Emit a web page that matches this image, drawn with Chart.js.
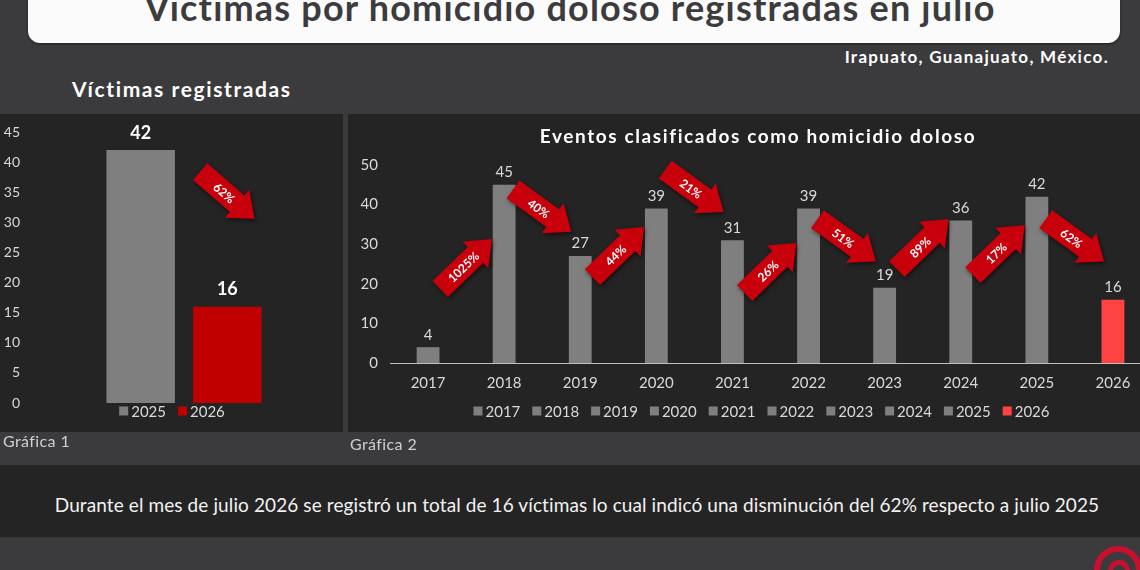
<!DOCTYPE html>
<html>
<head>
<meta charset="utf-8">
<script src="https://cdn.jsdelivr.net/npm/chart.js@4.4.1/dist/chart.umd.min.js"></script>
<style>
    body { margin: 0; width: 1140px; height: 570px; overflow: hidden; background: #3b3a3c; font-family: Lato, sans-serif; position: relative; }
    .abs { position: absolute; }
    #titleBox { left: 28px; top: -20px; width: 1092px; height: 63px; background: #fbfbfb; border-radius: 12px; box-shadow: 0 1px 3px rgba(0,0,0,.45); }
    #title { left: 0; width: 1140px; top: -11px; line-height: 36px; text-align: center; font-weight: bold; font-size: 36px; letter-spacing: 1.2px; color: #3c3b3d; white-space: nowrap; }
    #place { right: 31px; top: 46px; font-weight: bold; font-size: 17px; letter-spacing: 1.3px; color: #fff; }
    #sub { left: 72px; top: 76px; font-weight: bold; font-size: 21px; letter-spacing: 1.6px; color: #fff; }
    .panel { background: #242424; }
    #leftPanel { left: 0; top: 114px; width: 343px; height: 318px; }
    #rightPanel { left: 348px; top: 114px; width: 805px; height: 318px; }
    .caption { font-size: 16px; letter-spacing: 0.4px; color: #d0d0d0; }
    #band { left: 0; top: 465px; width: 1140px; height: 72px; background: #242424; }
    #note { left: 7px; width: 1140px; top: 493px; text-align: center; font-size: 19px; letter-spacing: 0.1px; color: #f2f2f2; white-space: nowrap; }
    #logo { left: 1094px; top: 546px; width: 36px; height: 36px; border: 6px solid #c8102e; border-radius: 50%; }
    #logoIn { left: 1108px; top: 560px; width: 12px; height: 12px; border: 5px solid #c8102e; border-radius: 50%; }
</style>
</head>
<body>
<div id="titleBox" class="abs"></div>
<div id="title" class="abs">Víctimas por homicidio doloso registradas en julio</div>
<div id="place" class="abs">Irapuato, Guanajuato, México.</div>
<div id="sub" class="abs">Víctimas registradas</div>

<div id="leftPanel" class="abs panel"><canvas id="chartLeft" width="343" height="318"></canvas></div>
<div id="rightPanel" class="abs panel"><canvas id="chartRight" width="805" height="318"></canvas></div>
<div class="abs caption" style="left:3px;top:431px">Gráfica 1</div>
<div class="abs caption" style="left:350px;top:434px">Gráfica 2</div>

<div id="band" class="abs"></div>
<div id="note" class="abs">Durante el mes de julio 2026 se registró un total de 16 víctimas lo cual indicó una disminución del 62% respecto a julio 2025</div>
<div id="logo" class="abs"></div>
<div id="logoIn" class="abs"></div>

<script>
// datos
const compareYears = ['2025', '2026'];
const compareValues = [42, 16];
const compareTicks = [0, 5, 10, 15, 20, 25, 30, 35, 40, 45];

const years = ['2017', '2018', '2019', '2020', '2021', '2022', '2023', '2024', '2025', '2026'];
const victims = [4, 45, 27, 39, 31, 39, 19, 36, 42, 16];
const yearTicks = [0, 10, 20, 30, 40, 50];

// altura (en valores del eje) de cada flecha entre barras
const arrowLevels = [25, 38.5, 28, 43.5, 24, 31, 30, 28.5, 31];
const leftArrowLevel = 34.5;

const GRAY = '#7f7f7f';
const TICK = '#d9d9d9';
const barColors = years.map((y, i) => i === years.length - 1 ? '#ff4343' : GRAY);
const compareColors = [GRAY, '#c00000'];

function pct(a, b) {
    return Math.round(Math.abs(b - a) / a * 100) + '%';
}

function drawArrow(ctx, cx, cy, angle, label) {
    const L = 72, shaft = 22, head = 37, headLen = 23;
    ctx.save();
    ctx.translate(cx, cy);
    ctx.rotate(angle);
    ctx.shadowColor = 'rgba(0,0,0,0.55)';
    ctx.shadowBlur = 4;
    ctx.shadowOffsetX = 1;
    ctx.shadowOffsetY = 2;
    ctx.fillStyle = '#c8000b';
    ctx.beginPath();
    ctx.moveTo(-L / 2, -shaft / 2);
    ctx.lineTo(L / 2 - headLen, -shaft / 2);
    ctx.lineTo(L / 2 - headLen, -head / 2);
    ctx.lineTo(L / 2, 0);
    ctx.lineTo(L / 2 - headLen, head / 2);
    ctx.lineTo(L / 2 - headLen, shaft / 2);
    ctx.lineTo(-L / 2, shaft / 2);
    ctx.closePath();
    ctx.fill();
    ctx.shadowColor = 'transparent';
    ctx.fillStyle = '#ffffff';
    ctx.font = 'bold 12px Lato';
    ctx.textAlign = 'center';
    ctx.textBaseline = 'middle';
    ctx.fillText(label, -4, 1);
    ctx.restore();
}

// etiquetas de valor sobre las barras
const valueLabels = {
    id: 'valueLabels',
    afterDatasetsDraw(chart, args, opts) {
        const ctx = chart.ctx;
        ctx.save();
        ctx.font = opts.font;
        ctx.fillStyle = opts.color;
        ctx.textAlign = 'center';
        ctx.textBaseline = 'bottom';
        chart.data.datasets.forEach((ds, di) => {
            chart.getDatasetMeta(di).data.forEach((bar, i) => {
                ctx.fillText(ds.data[i], bar.x, bar.y - opts.gap);
            });
        });
        ctx.restore();
    }
};

// leyenda compacta pegada al eje
const tightLegend = {
    id: 'tightLegend',
    afterDraw(chart, args, opts) {
        const ctx = chart.ctx;
        ctx.save();
        ctx.font = '15px Lato';
        ctx.textBaseline = 'middle';
        ctx.textAlign = 'left';
        const box = 9, gap = 3, space = 12;
        const widths = opts.items.map(t => box + gap + ctx.measureText(t).width);
        const total = widths.reduce((a, b) => a + b, 0) + space * (widths.length - 1);
        let x = opts.center(chart) - total / 2;
        const y = chart.chartArea.bottom + opts.offset;
        opts.items.forEach((t, i) => {
            ctx.fillStyle = opts.colors[i];
            ctx.fillRect(x, y - box / 2, box, box);
            ctx.fillStyle = TICK;
            ctx.fillText(t, x + box + gap, y + 1);
            x += widths[i] + space;
        });
        ctx.restore();
    }
};

// Gráfica 1
new Chart(document.getElementById('chartLeft'), {
    type: 'bar',
    data: {
        labels: ['julio'],
        datasets: compareYears.map((y, i) => ({
            label: y,
            data: [compareValues[i]],
            backgroundColor: compareColors[i],
            categoryPercentage: 0.545,
            barPercentage: 0.79
        }))
    },
    options: {
        responsive: false,
        animation: false,
        layout: { padding: { top: 18, right: 0, bottom: 29 } },
        scales: {
            x: { display: false },
            y: {
                min: 0, max: 45,
                afterBuildTicks: s => { s.ticks = compareTicks.map(v => ({ value: v })); },
                afterFit: s => { s.width = 25; },
                grid: { display: false, drawTicks: false },
                border: { display: false },
                ticks: { color: TICK, font: { family: 'Lato', size: 14 }, padding: 5 }
            }
        },
        plugins: {
            legend: { display: false },
            tooltip: { enabled: false },
            valueLabels: { font: 'bold 18px Lato', color: '#ffffff', gap: 8 },
            tightLegend: {
                items: compareYears, colors: compareColors, offset: 8,
                center: c => (c.chartArea.left + c.chartArea.right) / 2 - 12
            }
        }
    },
    plugins: [valueLabels, tightLegend, {
        id: 'leftArrow',
        afterDatasetsDraw(chart) {
            const bar = chart.getDatasetMeta(1).data[0];
            const y = chart.scales.y.getPixelForValue(leftArrowLevel);
            drawArrow(chart.ctx, bar.x, y, 41 * Math.PI / 180, pct(compareValues[0], compareValues[1]));
        }
    }]
});

// Gráfica 2
new Chart(document.getElementById('chartRight'), {
    type: 'bar',
    data: {
        labels: years,
        datasets: [{
            label: 'Víctimas',
            data: victims,
            backgroundColor: barColors,
            categoryPercentage: 1,
            barPercentage: 0.3
        }]
    },
    options: {
        responsive: false,
        animation: false,
        layout: { padding: { top: 51, right: 2, bottom: 29 } },
        scales: {
            x: {
                grid: { display: false, drawTicks: false },
                border: { display: true, color: '#bfbfbf', width: 1 },
                ticks: { color: TICK, font: { family: 'Lato', size: 15 }, padding: 11 }
            },
            y: {
                min: 0, max: 50,
                afterBuildTicks: s => { s.ticks = yearTicks.map(v => ({ value: v })); },
                afterFit: s => { s.width = 42; },
                grid: { display: false, drawTicks: false },
                border: { display: false },
                ticks: { color: TICK, font: { family: 'Lato', size: 15 }, padding: 12 }
            }
        },
        plugins: {
            legend: { display: false },
            tooltip: { enabled: false },
            valueLabels: { font: '15px Lato', color: TICK, gap: 5 },
            tightLegend: {
                items: years, colors: barColors, offset: 48,
                center: c => (c.chartArea.left + c.chartArea.right) / 2 - 9
            }
        }
    },
    plugins: [valueLabels, tightLegend, {
        id: 'arrows',
        afterDatasetsDraw(chart) {
            const xs = chart.scales.x, ys = chart.scales.y;
            for (let i = 0; i < victims.length - 1; i++) {
                const cx = (xs.getPixelForValue(i) + xs.getPixelForValue(i + 1)) / 2;
                const cy = ys.getPixelForValue(arrowLevels[i]);
                const up = victims[i + 1] > victims[i];
                const ang = (up ? -44 : 36) * Math.PI / 180;
                drawArrow(chart.ctx, cx, cy, ang, pct(victims[i], victims[i + 1]));
            }
        }
    }, {
        id: 'spacedTitle',
        afterDraw(chart) {
            const ctx = chart.ctx;
            ctx.save();
            ctx.font = 'bold 19px Lato';
            ctx.letterSpacing = '1.6px';
            ctx.fillStyle = '#ffffff';
            ctx.textAlign = 'center';
            ctx.textBaseline = 'middle';
            ctx.fillText('Eventos clasificados como homicidio doloso', 410, 23);
            ctx.restore();
        }
    }]
});
</script>
</body>
</html>
